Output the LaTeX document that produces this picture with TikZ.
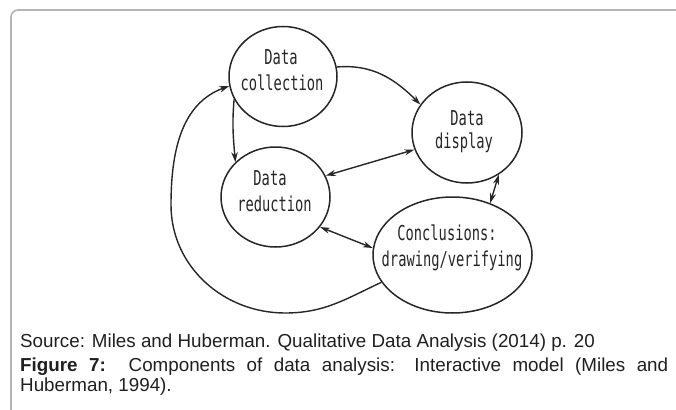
\documentclass[tikz,border=0pt]{standalone}
\usepackage{fontspec}
\setmainfont{Liberation Sans}
\newfontfamily\twfont[FakeStretch=0.67]{DejaVu Sans Mono}
\usetikzlibrary{shapes.geometric,arrows.meta}
\definecolor{ink}{HTML}{262626}
\definecolor{framegray}{HTML}{B4B4B4}
\begin{document}
\begin{tikzpicture}[x=1pt,y=-1pt,
  blob/.style={ellipse, draw=ink, line width=1.5pt, inner sep=0pt},
  lbl/.style={anchor=base, inner sep=0pt, font=\twfont\fontsize{20.5}{25}\selectfont, text=ink},
  con/.style={draw=ink, line width=1.4pt},
  tip/.style={-{Stealth[length=10pt,width=6.5pt]}},
  dtip/.style={{Stealth[length=10pt,width=6pt]}-{Stealth[length=10pt,width=6pt]}},
  capt/.style={anchor=base west, inner sep=0pt, font=\fontsize{18.8}{20}\selectfont, text=black!88}]
\useasboundingbox (0,0) rectangle (676,409);
% frame
\coordinate (fa) at (11,414);
\coordinate (fb) at (682,10);
\draw[framegray, line width=1.6pt, rounded corners=7pt] (fa) |- (fb);
% ellipses
\node[blob, minimum width=108pt, minimum height=100pt] (dc) at (283,76.5) {};
\node[blob, minimum width=110pt, minimum height=101pt] (dd) at (467,132.5) {};
\node[blob, minimum width=109pt, minimum height=100pt] (dr) at (275.5,197) {};
\node[blob, minimum width=159pt, minimum height=116pt] (co) at (452.5,255) {};
% labels
\node[lbl] (dct1) at (281,65) {Data};
\node[lbl] (dct2) at (282,90.7) {collection};
\node[lbl] (ddt1) at (467,125) {Data};
\node[lbl] (ddt2) at (464,148.5) {display};
\node[lbl] (drt1) at (270,185) {Data};
\node[lbl] (drt2) at (274.5,211.7) {reduction};
\node[lbl] (cot1) at (447,240) {Conclusions:};
\node[lbl] (cot2) at (452,266.7) {drawing/verifying};
% connectors
\draw[con,tip] (dc.10) to[out=5,in=135] (dd.149);
\draw[con,tip] (dc.205) to[out=-95,in=95] (dr.139);
\draw[con,dtip] (dr.23) -- (dd.198);
\draw[con,dtip] (dr.-34) -- (co.175);
\draw[con,dtip] (co.54) -- (dd.-53);
\coordinate (lb) at (285,313);
\coordinate (ll) at (171,205);
\draw[con,tip] (co.201) to[out=205,in=0] (lb) to[out=180,in=270] (ll) to[out=90,in=200] (dc.190);
% caption
\node[capt] (src) at (20,347) {Source: Miles and Huberman. Qualitative Data Analysis (2014) p. 20};
\node[capt] (fig1) at (20,371.7) {\makebox[648pt][s]{\textbf{Figure 7:}\ \ Components of data analysis: Interactive model (Miles and}};
\node[capt] (fig2) at (20,391.7) {Huberman, 1994).};
\end{tikzpicture}
\end{document}
